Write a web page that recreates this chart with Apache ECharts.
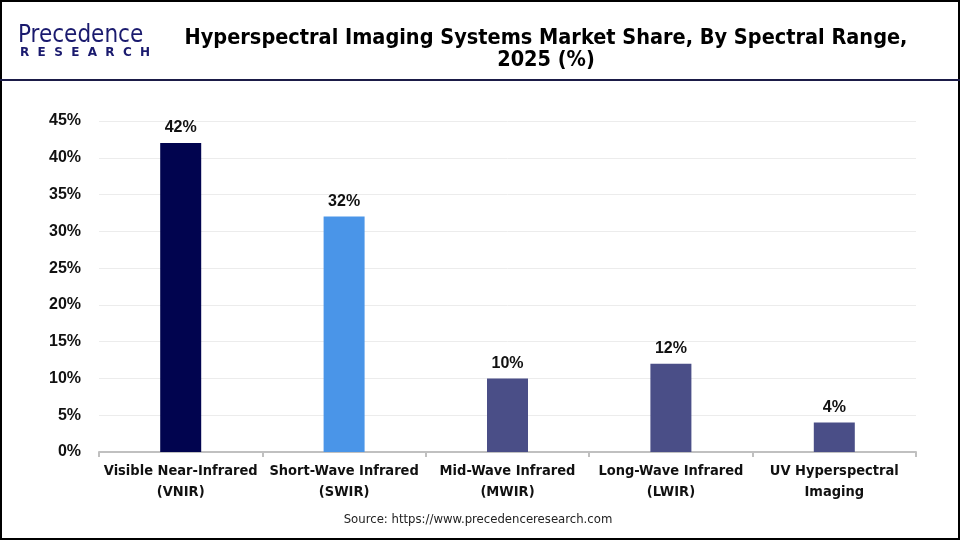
<!DOCTYPE html>
<html>
<head>
<meta charset="utf-8">
<script src="https://cdn.jsdelivr.net/npm/echarts@6/dist/echarts.min.js"></script>
<style>
  html, body { margin: 0; padding: 0; background: #fff; }
  #chart { width: 960px; height: 540px; }
</style>
</head>
<body>
<div id="chart"></div>
<script>
  // data
  var categories = ['Visible Near-Infrared\n(VNIR)', 'Short-Wave Infrared\n(SWIR)', 'Mid-Wave Infrared\n(MWIR)', 'Long-Wave Infrared\n(LWIR)', 'UV Hyperspectral\nImaging'];
  var shares = [42, 32, 10, 12, 4];
  var barColors = ['#01044f', '#4a95e8', '#4a4e87', '#4a4e87', '#4a4e87'];

  var titleFont = 'bold 21.5px "DejaVu Sans Condensed", "Liberation Sans Narrow", sans-serif';

  var chart = echarts.init(document.getElementById('chart'));
  chart.setOption({
    backgroundColor: '#fff',
    animation: false,
    grid: { left: 99, right: 44, top: 121, bottom: 88 },
    graphic: [
      // outer frame
      { type: 'rect', shape: { x: 1, y: 1, width: 958, height: 538 }, style: { fill: 'none', stroke: '#000', lineWidth: 2 } },
      // header divider
      { type: 'rect', shape: { x: 0, y: 79, width: 960, height: 2 }, style: { fill: '#1b1b48' } },
      // title
      { type: 'text', style: { x: 546, y: 38, text: 'Hyperspectral Imaging Systems Market Share, By Spectral Range,', textAlign: 'center', textVerticalAlign: 'middle', font: titleFont, fill: '#000' } },
      { type: 'text', style: { x: 546, y: 60, text: '2025 (%)', textAlign: 'center', textVerticalAlign: 'middle', font: titleFont, fill: '#000' } },
      // logo
      { type: 'text', style: { x: 18, y: 36, text: 'Precedence', textVerticalAlign: 'middle', font: '24px "DejaVu Sans Condensed", sans-serif', fill: '#1a1a6e' } },
      { type: 'text', style: { x: 20, y: 53, text: 'R  E  S  E  A  R  C  H', textVerticalAlign: 'middle', font: 'bold 12px "DejaVu Sans", sans-serif', fill: '#1a1a6e' } },
      // source
      { type: 'text', style: { x: 478, y: 520, text: 'Source: https://www.precedenceresearch.com', textAlign: 'center', textVerticalAlign: 'middle', font: '13px "DejaVu Sans Condensed", sans-serif', fill: '#222' } }
    ],
    xAxis: {
      type: 'category',
      data: categories,
      axisLine: { lineStyle: { color: '#c0c0c0', width: 2 } },
      axisTick: { show: true, length: 5, lineStyle: { color: '#c0c0c0', width: 2 } },
      axisLabel: {
        color: '#111',
        fontFamily: '"DejaVu Sans Condensed", sans-serif',
        fontWeight: 'bold',
        fontSize: 14.5,
        lineHeight: 21,
        margin: 9,
        interval: 0
      }
    },
    yAxis: {
      type: 'value',
      min: 0,
      max: 45,
      interval: 5,
      axisLine: { show: false },
      axisTick: { show: false },
      splitLine: { lineStyle: { color: '#ececec', width: 1 } },
      axisLabel: {
        formatter: '{value}%',
        color: '#111',
        fontFamily: 'Liberation Sans, Arial, sans-serif',
        fontWeight: 'bold',
        fontSize: 16,
        margin: 18
      }
    },
    series: [{
      type: 'bar',
      barWidth: 41,
      data: shares.map(function (v, i) {
        return { value: v, itemStyle: { color: barColors[i] } };
      }),
      label: {
        show: true,
        position: 'top',
        distance: 7,
        formatter: '{c}%',
        color: '#111',
        fontFamily: 'Liberation Sans, Arial, sans-serif',
        fontWeight: 'bold',
        fontSize: 16
      }
    }]
  });
</script>
</body>
</html>
